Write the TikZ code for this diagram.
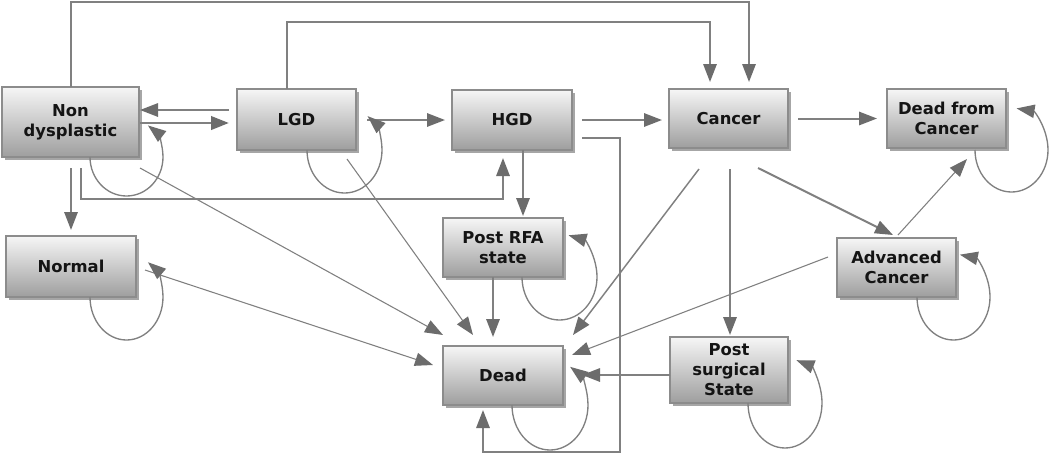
\documentclass[tikz,border=0pt]{standalone}
\usepackage{fontspec}
\setmainfont{DejaVu Sans}
\usetikzlibrary{arrows.meta,calc,shadows}
\definecolor{lc}{HTML}{808080}
\definecolor{ac}{HTML}{6C6C6C}
\definecolor{bd}{HTML}{8C8C8C}
\definecolor{txt}{HTML}{141414}
\definecolor{boxtop}{HTML}{F6F6F6}
\definecolor{boxbot}{HTML}{9E9E9E}
\begin{document}
\begin{tikzpicture}[x=0.75pt,y=0.75pt,
  box/.style={draw=bd, line width=0.8pt, top color=boxtop, bottom color=boxbot,
    drop shadow={shadow xshift=2.2pt, shadow yshift=-2.2pt, fill=black, opacity=0.35},
    font=\fontsize{12.3}{15}\selectfont\bfseries, text=txt, align=center,
    inner sep=0pt, outer sep=0pt},
  conn/.style={draw=lc, line width=1.5pt, -{Triangle[length=13.5pt,width=10pt,color=ac]}},
  thin/.style={conn, line width=0.8pt},
  lp/.style={conn, line width=1pt}]
\useasboundingbox (0,0) rectangle (1050,-458);
\fill[white] (0,0) rectangle (1050,-458);

% nodes
\node[box, minimum width=137*0.75pt, minimum height=70*0.75pt] (nd) at (70.5,-122) {Non\\dysplastic};
\node[box, minimum width=119*0.75pt, minimum height=61*0.75pt] (lgd) at (296.5,-119.5) {LGD};
\node[box, minimum width=120*0.75pt, minimum height=60*0.75pt] (hgd) at (512,-120) {HGD};
\node[box, minimum width=119*0.75pt, minimum height=59*0.75pt] (can) at (728.5,-118.5) {Cancer};
\node[box, minimum width=119*0.75pt, minimum height=59*0.75pt] (dfc) at (946.5,-118.5) {Dead from\\Cancer};
\node[box, minimum width=130*0.75pt, minimum height=61*0.75pt] (nor) at (71,-266.5) {Normal};
\node[box, minimum width=120*0.75pt, minimum height=59*0.75pt] (rfa) at (503,-247.5) {Post RFA\\state};
\node[box, minimum width=119*0.75pt, minimum height=59*0.75pt] (adv) at (896.5,-267.5) {Advanced\\Cancer};
\node[box, minimum width=120*0.75pt, minimum height=59*0.75pt] (dead) at (503,-375.5) {Dead};
\node[box, minimum width=118*0.75pt, minimum height=66*0.75pt] (pss) at (729,-370) {Post\\surgical\\State};

% long routes over the top
\draw[conn] ($(nd.north)+(0.5,0)$) -- ++(0,85) -| ($(can.north)+(20.5,7)$);
\draw[conn] ($(lgd.north)+(-9.5,0)$) -- ++(0,67) -| ($(can.north)+(-18.5,7)$);

% horizontal connectors
\draw[conn] ($(lgd.west)+(-8,9.5)$) -- ($(nd.east)+(1,12)$);
\draw[conn, line width=2.2pt] ($(nd.east)+(1,-1)$) -- ($(lgd.west)+(-8,-3.5)$);
\draw[conn] ($(lgd.east)+(11,-0.5)$) -- ($(hgd.west)+(-7,0)$);
\draw[conn] ($(hgd.east)+(10,0)$) -- ($(can.west)+(-7,-1.5)$);
\draw[conn] ($(can.east)+(10,0)$) -- ($(dfc.west)+(-10,0)$);
\draw[conn] (pss.west) ++(0,-5) -- ($(dead.east)+(19,0.5)$);

% HGD to Dead outer route
\draw[conn] ($(hgd.east)+(10,-18)$) -- ++(38,0) -- ++(0,-314) -| ($(dead.south)+(-20,-5)$);
% Non dysplastic to HGD
\draw[conn] ($(nd.south)+(10.5,-11)$) -- ++(0,-31) -| ($(hgd.south)+(-9,-8)$);
% vertical connectors
\draw[conn] ($(nd.south)+(0.5,-11)$) -- ($(nor.north)+(0,6)$);
\draw[conn] ($(hgd.south)+(11,0)$) -- ($(rfa.north)+(20,2)$);
\draw[conn] ($(rfa.south)+(-10,0)$) -- ($(dead.north)+(-10,9)$);
\draw[conn] ($(can.south)+(1.5,-21)$) -- ($(pss.north)+(1,2)$);
\draw[conn] ($(can.south)+(29.5,-20)$) -- ($(adv.north)+(-3.5,3)$);

% thin diagonal connectors
\draw[thin] ($(nd.south east)+(1,-11)$) -- ($(dead.north west)+(0,11)$);
\draw[thin] ($(lgd.south east)+(-9,-9)$) -- ($(dead.north)+(-30,11)$);
\draw[thin] ($(nor.east)+(9,-3.5)$) -- ($(dead.west)+(-10,10.5)$);
\draw[thin, line width=1.1pt] ($(can.south)+(-29.5,-21)$) -- ($(dead.north east)+(10,11)$);
\draw[thin] ($(adv.west)+(-9,10.5)$) -- ($(dead.east)+(9,20.5)$);
\draw[thin] ($(adv.north)+(1.5,3)$) -- ($(dfc.south)+(20.5,-11)$);

% self loops
\draw[lp] ($(nd.south west)+(88,0)$) arc[start angle=180, end angle=414, x radius=36.5, y radius=39];
\draw[lp] ($(lgd.south west)+(70,0)$) arc[start angle=180, end angle=412, x radius=37.5, y radius=43];
\draw[lp] ($(nor.south west)+(84,0)$) arc[start angle=180, end angle=414, x radius=36.5, y radius=43];
\draw[lp] ($(rfa.south west)+(79,0)$) arc[start angle=180, end angle=436, x radius=37.5, y radius=43];
\draw[lp] ($(dead.south west)+(69,0)$) arc[start angle=180, end angle=418, x radius=38, y radius=45];
\draw[lp] ($(pss.south west)+(78,0)$) arc[start angle=180, end angle=432, x radius=37, y radius=45];
\draw[lp] ($(adv.south west)+(80,0)$) arc[start angle=180, end angle=440, x radius=36.5, y radius=43];
\draw[lp] ($(dfc.south west)+(88,-2)$) arc[start angle=180, end angle=442, x radius=36.5, y radius=42];
\end{tikzpicture}
\end{document}
